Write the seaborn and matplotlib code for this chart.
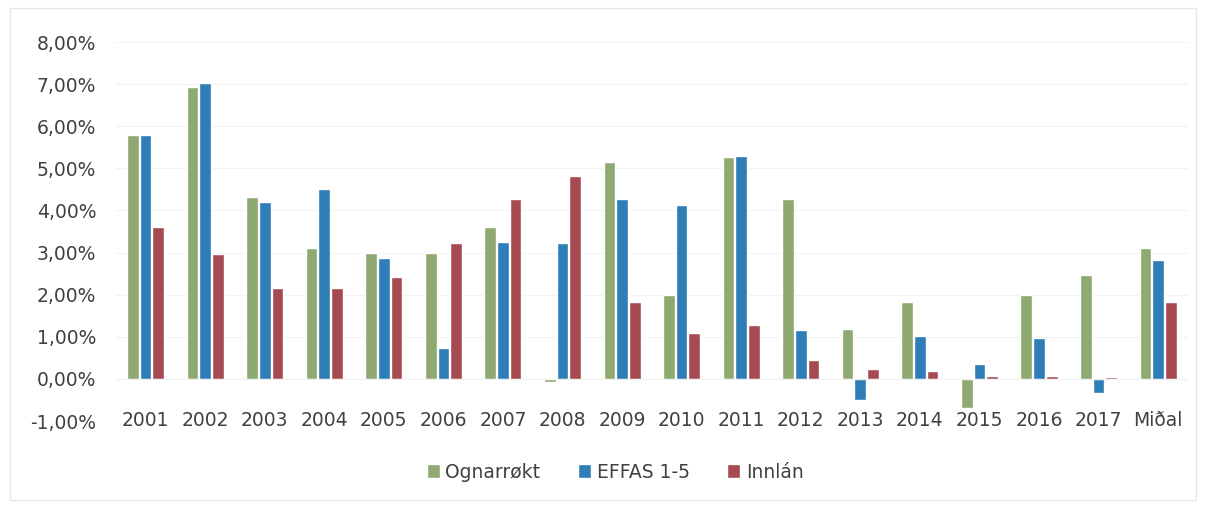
import pandas as pd
import seaborn as sns
import matplotlib.pyplot as plt
from matplotlib.ticker import FuncFormatter

years = ["2001", "2002", "2003", "2004", "2005", "2006", "2007", "2008", "2009",
         "2010", "2011", "2012", "2013", "2014", "2015", "2016", "2017", "Miðal"]
ognarrokt = [5.80, 6.94, 4.32, 3.11, 2.99, 2.99, 3.61, -0.08, 5.15,
             2.00, 5.27, 4.28, 1.19, 1.83, -0.70, 2.00, 2.47, 3.11]
effas = [5.80, 7.03, 4.20, 4.51, 2.87, 0.74, 3.25, 3.23, 4.28,
         4.13, 5.30, 1.16, -0.50, 1.02, 0.36, 0.97, -0.33, 2.83]
innlan = [3.61, 2.97, 2.16, 2.16, 2.42, 3.23, 4.28, 4.82, 1.83,
          1.09, 1.28, 0.45, 0.24, 0.19, 0.07, 0.07, 0.04, 1.83]
series_names = ["Ognarrøkt", "EFFAS 1-5", "Innlán"]
colors = ["#8FAA70", "#2E7DB6", "#A64A52"]

df = pd.DataFrame({
    "ár": years * 3,
    "virði": ognarrokt + effas + innlan,
    "röð": [s for s in series_names for _ in years],
})

sns.set_style("white")
plt.rcParams["font.family"] = ["DejaVu Sans"]

fig = plt.figure(figsize=(12.06, 5.05), dpi=100)
ax = fig.add_axes([0.096, 0.1663, 0.889, 0.7505])

sns.barplot(data=df, x="ár", y="virði", hue="röð", palette=colors,
            width=0.64, gap=0.08, saturation=1, ax=ax, legend=True)

ax.set_ylim(-1, 8)
ax.set_xlim(-0.5, len(years) - 0.5)
ax.set_yticks(range(-1, 9))
ax.yaxis.set_major_formatter(FuncFormatter(lambda v, p: f"{v:.2f}%".replace(".", ",")))
ax.grid(axis="y", color="#f2f2f2", linewidth=0.8)
ax.set_axisbelow(True)
for s in ["top", "right", "left"]:
    ax.spines[s].set_visible(False)
ax.spines["bottom"].set_position(("data", 0))
ax.spines["bottom"].set_color("#f0f0f0")
ax.tick_params(axis="x", length=0, pad=23, labelsize=13.5, labelcolor="#404040")
ax.tick_params(axis="y", length=0, pad=14, labelsize=13.5, labelcolor="#404040")
ax.set_xlabel("")
ax.set_ylabel("")

ax.legend(loc="center", bbox_to_anchor=(0.51, 0.0653), bbox_transform=fig.transFigure,
          ncol=3, frameon=False, fontsize=13.5, handlelength=0.7, handleheight=0.7,
          handletextpad=0.3, columnspacing=2.0, labelcolor="#404040")

fig.patches.append(plt.Rectangle((0.008, 0.01), 0.984, 0.975, transform=fig.transFigure,
                                 fill=False, edgecolor="#e6e6e6", linewidth=1))

fig.savefig("out.png", dpi=100)
